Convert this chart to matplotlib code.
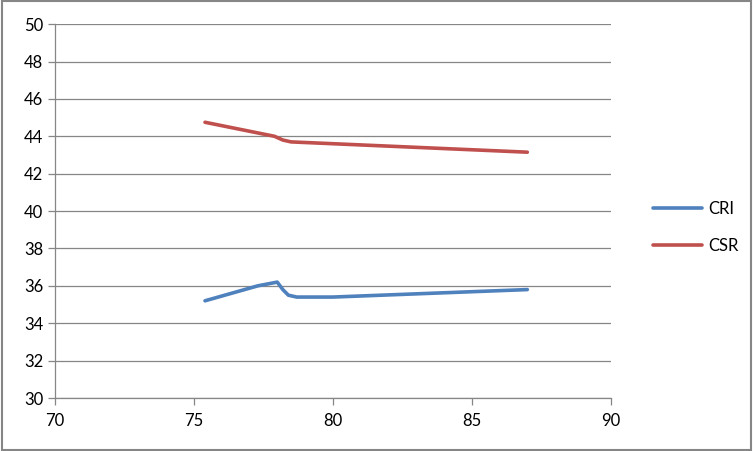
import matplotlib
matplotlib.use("Agg")
from matplotlib import pyplot as plt
from matplotlib.patches import Rectangle

# values
cri_x = [75.4, 77.3, 78.0, 78.2, 78.4, 78.7, 80.0, 87.0]
cri_y = [35.2, 36.0, 36.2, 35.8, 35.5, 35.4, 35.4, 35.8]
csr_x = [75.4, 77.9, 78.2, 78.5, 87.0]
csr_y = [44.75, 44.0, 43.8, 43.7, 43.15]
xticks = [70, 75, 80, 85, 90]
yticks = [30, 32, 34, 36, 38, 40, 42, 44, 46, 48, 50]

plt.rcParams['font.family'] = ['Lato', 'DejaVu Sans']

fig = plt.figure(figsize=(7.53, 4.51), dpi=100)
ax = fig.add_axes([0.073, 0.1175, 0.738, 0.829])

gray = '#868686'
ax.plot(cri_x, cri_y, color='#4F81BD', lw=2.6, label='CRI', solid_capstyle='round')
ax.plot(csr_x, csr_y, color='#C0504D', lw=2.6, label='CSR', solid_capstyle='round')

ax.set_xlim(70, 90)
ax.set_ylim(30, 50)
ax.set_xticks(xticks)
ax.set_yticks(yticks)
ax.yaxis.grid(True, color=gray, lw=0.9)
ax.set_axisbelow(True)
for s in ['top', 'right']:
    ax.spines[s].set_visible(False)
for s in ['left', 'bottom']:
    ax.spines[s].set_color(gray)
    ax.spines[s].set_linewidth(0.9)
ax.tick_params(colors=gray, labelcolor='black', labelsize=12, length=5, width=0.9)
ax.tick_params(axis='x', pad=6)

ax.legend(loc='center left', bbox_to_anchor=(1.05, 0.457), frameon=False,
          fontsize=12, handlelength=2.9, labelspacing=1.25, handletextpad=0.4)

fig.patches.append(Rectangle((0.002, 0.002), 0.996, 0.996, transform=fig.transFigure,
                             fill=False, edgecolor=gray, lw=1.5))

fig.savefig('out.png', dpi=100)
